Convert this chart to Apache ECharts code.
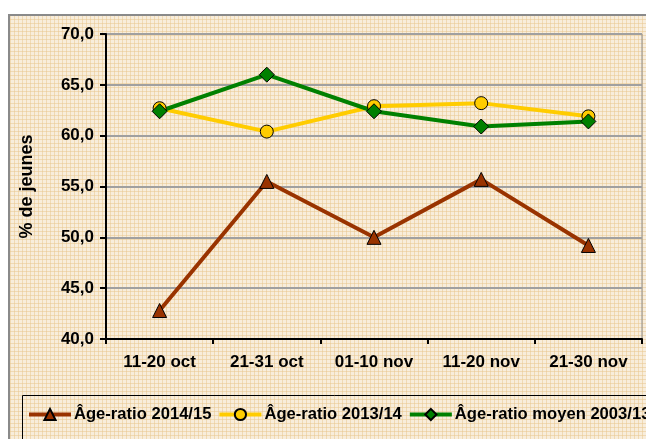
<!DOCTYPE html>
<html>
<head>
<meta charset="utf-8">
<script src="https://cdn.jsdelivr.net/npm/echarts@6/dist/echarts.min.js"></script>
<style>
  html, body { margin: 0; padding: 0; background: #fff; }
  #wrap { position: relative; width: 646px; height: 439px; overflow: hidden; }
  /* Excel-style "papier millimétré" chart area */
  #frame {
    position: absolute; left: 8px; top: 14px; width: 660px; height: 460px;
    border-left: 2px solid #8a8a8a; border-top: 2px solid #8a8a8a;
    background-color: #f8eddb;
    background-image:
      repeating-linear-gradient(0deg, rgba(232, 198, 140, 0.5) 0 1px, transparent 1px 4px),
      repeating-linear-gradient(90deg, rgba(232, 198, 140, 0.5) 0 1px, transparent 1px 4px);
  }
  #chart { position: absolute; left: 0; top: 0; width: 646px; height: 439px; }
</style>
</head>
<body>
<div id="wrap">
  <div id="frame"></div>
  <div id="chart"></div>
</div>
<script>
// périodes
const periodes = ['11-20 oct', '21-31 oct', '01-10 nov', '11-20 nov', '21-30 nov']
// valeurs
const ratio2014 = [42.8, 55.5, 50.0, 55.7, 49.2]
const ratio2013 = [62.7, 60.4, 62.9, 63.2, 61.9]
const ratioMoyen = [62.4, 66.0, 62.4, 60.9, 61.4]

const noms = ['Âge-ratio 2014/15', 'Âge-ratio 2013/14', 'Âge-ratio moyen 2003/13']

const police = 'Liberation Sans, Arial, sans-serif'

const myChart = echarts.init(document.getElementById('chart'), null, { renderer: 'canvas' })

function serie(name, data, color, symbol, size) {
  return {
    name: name,
    type: 'line',
    data: data,
    symbol: symbol,
    symbolSize: size,
    showAllSymbol: true,
    lineStyle: { color: color, width: 4 },
    itemStyle: { color: color, borderColor: '#000', borderWidth: 1 },
    emphasis: { disabled: true },
    animation: false,
  }
}

myChart.setOption({
  backgroundColor: 'transparent',
  textStyle: { fontFamily: police },
  grid: {
    left: 106,
    top: 34,
    right: 4,
    bottom: 100,
    show: true,
    borderColor: '#8c8c8c',
    borderWidth: 1,
  },
  graphic: [
    {
      type: 'rect',
      left: 22,
      top: 395,
      shape: { width: 640, height: 60 },
      style: { fill: 'transparent', stroke: '#000', lineWidth: 1 },
      z: 0,
    },
  ],
  legend: {
    data: noms,
    left: 27,
    top: 406,
    width: 1000,
    itemWidth: 42,
    itemHeight: 14,
    itemGap: 6,
    padding: 0,
    lineStyle: { width: 4 },
    textStyle: { fontFamily: police, fontSize: 16.6, fontWeight: 'bold', color: '#000', padding: [0, 0, 0, -2] },
  },
  xAxis: {
    type: 'category',
    data: periodes,
    boundaryGap: true,
    axisLine: { lineStyle: { color: '#000', width: 2 } },
    axisTick: { show: true, length: 5, lineStyle: { color: '#000', width: 2 } },
    axisLabel: { color: '#000', fontSize: 17, fontWeight: 'bold', margin: 15 },
    splitLine: { show: false },
  },
  yAxis: {
    type: 'value',
    min: 40,
    max: 70,
    interval: 5,
    name: '% de jeunes',
    nameLocation: 'middle',
    nameGap: 70,
    nameTextStyle: { fontSize: 18, fontWeight: 'bold', color: '#000' },
    axisLine: { show: true, lineStyle: { color: '#000', width: 2 } },
    axisTick: { show: true, inside: false, length: 6, lineStyle: { color: '#000', width: 2 } },
    axisLabel: {
      color: '#000',
      fontSize: 17,
      fontWeight: 'bold',
      margin: 12,
      formatter: v => v.toFixed(1).replace('.', ','),
    },
    splitLine: { show: true, lineStyle: { color: '#a0a0a0', width: 2 } },
  },
  series: [
    serie(noms[0], ratio2014, '#993300', 'triangle', 14),
    serie(noms[1], ratio2013, '#ffcc00', 'circle', 13),
    serie(noms[2], ratioMoyen, '#008000', 'diamond', 15),
  ],
})
</script>
</body>
</html>
